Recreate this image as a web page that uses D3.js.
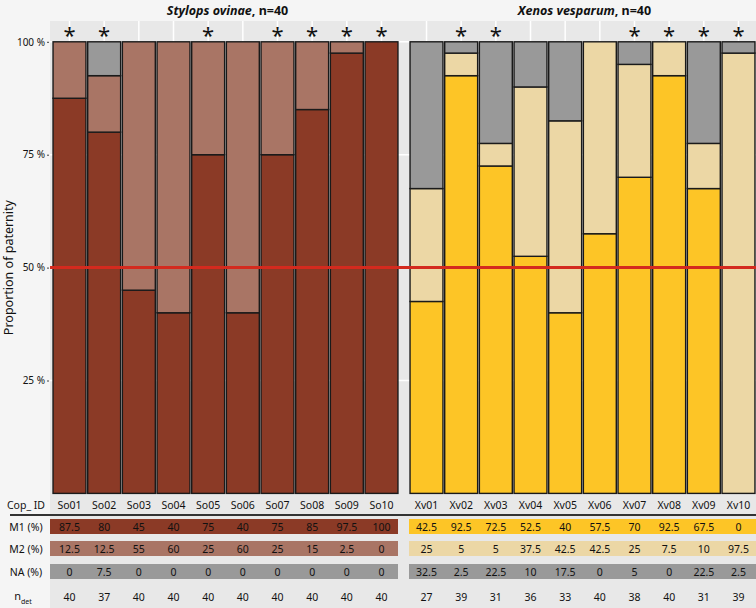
<!DOCTYPE html>
<html>
<head>
<meta charset="utf-8">
<script src="https://cdn.jsdelivr.net/npm/d3@7"></script>
<style>
  body { margin: 0; background: #f5f5f5; }
  text { font-family: "Noto Sans", "Open Sans", sans-serif; fill: #111; }
</style>
</head>
<body>
<div id="graph"></div>
<script>
// paternity shares per copulation (%)
var soIds = ["So01", "So02", "So03", "So04", "So05", "So06", "So07", "So08", "So09", "So10"];
var soM1 = [87.5, 80, 45, 40, 75, 40, 75, 85, 97.5, 100];
var soM2 = [12.5, 12.5, 55, 60, 25, 60, 25, 15, 2.5, 0];
var soNA = [0, 7.5, 0, 0, 0, 0, 0, 0, 0, 0];
var soN = [40, 37, 40, 40, 40, 40, 40, 40, 40, 40];
var soStar = [1, 1, 0, 0, 1, 0, 1, 1, 1, 1];

var xvIds = ["Xv01", "Xv02", "Xv03", "Xv04", "Xv05", "Xv06", "Xv07", "Xv08", "Xv09", "Xv10"];
var xvM1 = [42.5, 92.5, 72.5, 52.5, 40, 57.5, 70, 92.5, 67.5, 0];
var xvM2 = [25, 5, 5, 37.5, 42.5, 42.5, 25, 7.5, 10, 97.5];
var xvNA = [32.5, 2.5, 22.5, 10, 17.5, 0, 5, 0, 22.5, 2.5];
var xvN = [27, 39, 31, 36, 33, 40, 38, 40, 31, 39];
var xvStar = [0, 1, 1, 0, 0, 0, 1, 1, 1, 1];

var yTicks = [25, 50, 75, 100];

var width = 756, height = 608;
var plotTop = 41.8, plotBottom = 493.4;

var svg = d3.select("#graph").append("svg")
  .attr("width", width).attr("height", height);

svg.append("rect").attr("width", width).attr("height", height).attr("fill", "#f5f5f5");

var y = d3.scaleLinear().domain([0, 100]).range([plotBottom, plotTop]);

var groups = [
  {name: "Stylops ovinae", ids: soIds, m1: soM1, m2: soM2, na: soNA, n: soN, star: soStar,
   range: [52, 399], band: [50, 398], c1: "#8b3a26", c2: "#a97565"},
  {name: "Xenos vesparum", ids: xvIds, m1: xvM1, m2: xvM2, na: xvNA, n: xvN, star: xvStar,
   range: [409, 756], band: [409, 756], c1: "#fdc526", c2: "#ecd7a5"}
];
var naColor = "#999999";

// panel + table backgrounds
svg.append("rect").attr("x", 50).attr("y", 21).attr("width", width - 50).attr("height", height - 21)
  .attr("fill", "#e8e8e8");

// horizontal grid
svg.selectAll(".hgrid").data(yTicks).enter().append("line")
  .attr("x1", 50).attr("x2", width)
  .attr("y1", function (d) { return y(d); }).attr("y2", function (d) { return y(d); })
  .attr("stroke", "#fff").attr("stroke-width", 1.5);

groups.forEach(function (g) {
  var x = d3.scaleBand().domain(g.ids).range(g.range).paddingInner(0.05).paddingOuter(0.03);
  var rows = g.ids.map(function (id, i) {
    return {id: id, m1: g.m1[i], m2: g.m2[i], na: g.na[i], n: g.n[i], star: g.star[i]};
  });

  // vertical grid
  svg.selectAll(null).data(rows).enter().append("line")
    .attr("x1", function (d) { return x(d.id) + x.bandwidth() / 2; })
    .attr("x2", function (d) { return x(d.id) + x.bandwidth() / 2; })
    .attr("y1", 21).attr("y2", plotBottom)
    .attr("stroke", "#fff").attr("stroke-width", 1.5);

  var stack = d3.stack().keys(["m1", "m2", "na"])(rows);
  var colors = {m1: g.c1, m2: g.c2, na: naColor};

  stack.forEach(function (layer) {
    svg.selectAll(null).data(layer.filter(function (d) { return d[1] - d[0] > 0; })).enter().append("rect")
      .attr("x", function (d) { return x(d.data.id); })
      .attr("width", x.bandwidth())
      .attr("y", function (d) { return y(d[1]); })
      .attr("height", function (d) { return y(d[0]) - y(d[1]); })
      .attr("fill", colors[layer.key])
      .attr("stroke", "#1a1a1a").attr("stroke-width", 1.4);
  });

  // significance stars
  svg.selectAll(null).data(rows.filter(function (d) { return d.star; })).enter().append("text")
    .attr("x", function (d) { return x(d.id) + x.bandwidth() / 2; })
    .attr("y", 43)
    .attr("text-anchor", "middle")
    .style("font-size", "22px")
    .text("*");

  // title
  var title = svg.append("text")
    .attr("x", (g.range[0] + g.range[1]) / 2 + 2).attr("y", 15)
    .attr("text-anchor", "middle")
    .style("font-size", "12.5px").style("font-weight", "bold");
  title.append("tspan").style("font-style", "italic").text(g.name);
  title.append("tspan").text(", n=40");

  // table bands
  var x0 = g.band[0], x1 = g.band[1];
  [[519, g.c1], [541, g.c2], [564, naColor]].forEach(function (b) {
    svg.append("rect").attr("x", x0).attr("y", b[0]).attr("width", x1 - x0).attr("height", 15)
      .attr("fill", b[1]);
  });

  var cx = function (d) { return x(d.id) + x.bandwidth() / 2; };
  [["id", 509], ["m1", 531], ["m2", 553], ["na", 576], ["n", 601]].forEach(function (r) {
    svg.selectAll(null).data(rows).enter().append("text")
      .attr("x", cx).attr("y", r[1])
      .attr("text-anchor", "middle")
      .style("font-size", "10.5px")
      .text(function (d) { return d[r[0]]; });
  });
});

// 50 % reference line
svg.append("line").attr("x1", 50).attr("x2", width)
  .attr("y1", y(50)).attr("y2", y(50))
  .attr("stroke", "#d42a1e").attr("stroke-width", 3);

// y axis
var yAxis = d3.axisLeft(y).tickValues(yTicks).tickSize(2).tickPadding(2)
  .tickFormat(function (d) { return d + " %"; });
var ya = svg.append("g").attr("transform", "translate(49,0)").call(yAxis);
ya.select(".domain").remove();
ya.selectAll("text").style("font-size", "10px").attr("fill", "#222")
  .style("font-family", "\"Noto Sans\", sans-serif");
ya.selectAll("line").attr("stroke", "#444");

svg.append("text")
  .attr("transform", "translate(13," + y(50) + ") rotate(-90)")
  .attr("text-anchor", "middle")
  .style("font-size", "12.5px")
  .text("Proportion of paternity");

// table row labels
svg.append("line").attr("x1", 10).attr("x2", width).attr("y1", 515).attr("y2", 515)
  .attr("stroke", "#333").attr("stroke-width", 2);

var rowLabels = [["Cop_ ID", 509], ["M1 (%)", 531], ["M2 (%)", 553], ["NA (%)", 576]];
rowLabels.forEach(function (r) {
  svg.append("text").attr("x", 26).attr("y", r[1]).attr("text-anchor", "middle")
    .style("font-size", "10.5px").text(r[0]);
});
var nd = svg.append("text").attr("x", 23).attr("y", 600).attr("text-anchor", "middle")
  .style("font-size", "11px");
nd.append("tspan").text("n");
nd.append("tspan").attr("dy", 4).style("font-size", "7px").text("det");
</script>
</body>
</html>
